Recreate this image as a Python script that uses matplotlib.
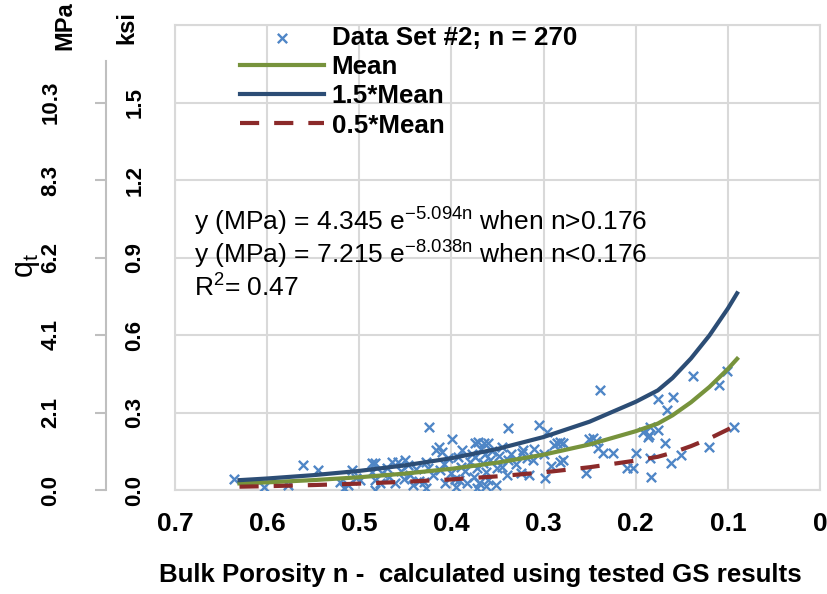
import matplotlib
matplotlib.use('Agg')
import matplotlib.pyplot as plt

# 字体
plt.rcParams['font.family'] = ['Liberation Sans', 'DejaVu Sans']
plt.rcParams['mathtext.fontset'] = 'custom'
plt.rcParams['mathtext.rm'] = 'Liberation Sans'
plt.rcParams['mathtext.it'] = 'Liberation Sans'

KSI = 6.895  # MPa per ksi

# scatter data (porosity n, qt in MPa)
n_data = [0.636, 0.603, 0.577, 0.561, 0.545, 0.521, 0.517, 0.512, 0.508, 0.504,
          0.499, 0.486, 0.486, 0.483, 0.483, 0.483, 0.477, 0.475, 0.470, 0.468,
          0.464, 0.461, 0.458, 0.455, 0.452, 0.450, 0.447, 0.445, 0.442, 0.438,
          0.435, 0.430, 0.428, 0.428, 0.425, 0.424, 0.420, 0.417, 0.414, 0.412,
          0.410, 0.408, 0.407, 0.404, 0.400, 0.399, 0.396, 0.395, 0.393, 0.392,
          0.390, 0.388, 0.385, 0.383, 0.380, 0.378, 0.376, 0.374, 0.374, 0.372,
          0.372, 0.371, 0.370, 0.368, 0.366, 0.365, 0.364, 0.363, 0.362, 0.360,
          0.360, 0.358, 0.356, 0.352, 0.350, 0.348, 0.345, 0.345, 0.340, 0.339,
          0.339, 0.335, 0.330, 0.325, 0.323, 0.322, 0.318, 0.316, 0.312, 0.310,
          0.305, 0.300, 0.298, 0.296, 0.292, 0.289, 0.285, 0.282, 0.282, 0.279,
          0.279, 0.254, 0.251, 0.246, 0.243, 0.241, 0.239, 0.235, 0.225, 0.209,
          0.203, 0.200, 0.192, 0.187, 0.186, 0.185, 0.184, 0.183, 0.176, 0.176,
          0.168, 0.166, 0.162, 0.159, 0.151, 0.138, 0.121, 0.110, 0.101, 0.093]
qt_data = [0.29, 0.08, 0.13, 0.67, 0.53, 0.21, 0.05, 0.13, 0.53, 0.32,
           0.27, 0.72, 0.48, 0.00, 0.27, 0.72, 0.19, 0.45, 0.60, 0.35,
           0.75, 0.19, 0.75, 0.50, 0.30, 0.80, 0.67, 0.40, 0.13, 0.55,
           0.25, 0.21, 0.75, 0.05, 0.60, 1.68, 0.40, 1.07, 1.15, 0.53,
           1.02, 0.70, 0.19, 0.86, 0.45, 1.36, 0.30, 0.08, 0.88, 0.27,
           0.62, 1.07, 0.50, 0.19, 0.75, 0.95, 0.35, 1.26, 0.88, 0.60,
           0.05, 1.28, 0.20, 1.10, 0.72, 1.26, 0.95, 0.48, 0.10, 1.26,
           0.27, 0.80, 1.05, 0.13, 0.60, 0.90, 1.15, 0.61, 0.40, 0.80,
           1.66, 0.95, 0.70, 0.45, 0.99, 1.07, 0.86, 0.40, 0.80, 1.10,
           1.74, 0.95, 0.32, 1.55, 0.65, 1.20, 1.26, 1.28, 0.75, 0.80,
           1.26, 0.45, 1.36, 1.39, 1.30, 1.12, 2.67, 0.99, 0.99, 0.59,
           0.59, 0.99, 1.55, 1.42, 1.47, 0.86, 1.68, 0.35, 2.43, 1.60,
           1.26, 2.14, 0.72, 2.49, 0.94, 3.05, 1.15, 2.81, 3.18, 1.68]

# fitted curves (MPa), read at these n values
n_fit = [0.63, 0.60, 0.55, 0.50, 0.45, 0.40, 0.35, 0.30, 0.25, 0.20, 0.176,
         0.16, 0.14, 0.12, 0.10, 0.09]
mean_fit = [0.176, 0.204, 0.264, 0.340, 0.439, 0.566, 0.731, 0.943, 1.216, 1.569,
            1.773, 1.994, 2.341, 2.750, 3.229, 3.500]
upper_fit = [0.263, 0.307, 0.396, 0.510, 0.659, 0.849, 1.096, 1.414, 1.824, 2.354,
             2.659, 2.991, 3.512, 4.125, 4.844, 5.250]
lower_fit = [0.088, 0.102, 0.132, 0.170, 0.220, 0.283, 0.365, 0.471, 0.608, 0.785,
             0.886, 0.997, 1.171, 1.375, 1.615, 1.750]

x_ticks = [0.7, 0.6, 0.5, 0.4, 0.3, 0.2, 0.1, 0]
x_tick_labels = ['0.7', '0.6', '0.5', '0.4', '0.3', '0.2', '0.1', '0']
ksi_ticks = [0.0, 0.3, 0.6, 0.9, 1.2, 1.5]
ksi_labels = ['0.0', '0.3', '0.6', '0.9', '1.2', '1.5']
mpa_labels = ['0.0', '2.1', '4.1', '6.2', '8.3', '10.3']

W, H = 828, 594
fig = plt.figure(figsize=(W / 100, H / 100), dpi=100)
ax = fig.add_axes([175 / W, 104 / H, 645 / W, 465 / H])

grid_c = '#d9d9d9'
ax.scatter(n_data, qt_data, marker='x', s=45, color='#4f86c6', linewidths=1.7,
           label='Data Set #2; n = 270', zorder=3)
ax.plot(n_fit, mean_fit, color='#77933c', lw=3, label='Mean', zorder=4)
ax.plot(n_fit, upper_fit, color='#2c4d75', lw=3, label='1.5*Mean', zorder=4)
ax.plot(n_fit, lower_fit, color='#8b2a2a', lw=3, ls=(0, (4.6, 3.6)),
        label='0.5*Mean', zorder=4)

ax.set_xlim(0.7, 0)
ax.set_ylim(0, 1.8 * KSI)
ax.set_xticks(x_ticks)
ax.set_xticklabels(x_tick_labels, fontweight='bold', fontsize=19)
ax.set_yticks([k * KSI for k in ksi_ticks] + [1.8 * KSI])
ax.set_yticklabels([])
ax.tick_params(axis='both', length=0, pad=16)
ax.grid(True, color=grid_c, lw=1.5, zorder=0)
for s in ax.spines.values():
    s.set_color(grid_c)
    s.set_linewidth(1.5)
ax.set_axisbelow(True)
fig.text(480 / W, 1 - 575 / H, 'Bulk Porosity n -  calculated using tested GS results',
         fontweight='bold', fontsize=18.6, ha='center', va='center')

leg = ax.legend(loc='upper left', bbox_to_anchor=(240 / W, 1 - 26 / H),
                bbox_transform=fig.transFigure, frameon=False,
                prop={'weight': 'bold', 'size': 18.7}, handlelength=3.25,
                handletextpad=0.28, labelspacing=0.2, borderpad=0,
                borderaxespad=0)

# left axis with both unit scales
ax2 = fig.add_axes([106 / W, 104 / H, 0.0001, 465 / H])
ax2.set_ylim(0, 1.8 * KSI)
ax2.set_xticks([])
for k in ['top', 'bottom', 'right']:
    ax2.spines[k].set_visible(False)
ax2.spines['left'].set_color('#bfbfbf')
ax2.spines['left'].set_linewidth(1.5)
ax2.spines['left'].set_bounds(0, 1.66 * KSI)
ax2.set_yticks([k * KSI for k in ksi_ticks])
ax2.set_yticklabels(mpa_labels, rotation=90, va='center',
                    fontweight='bold', fontsize=16)
ax2.tick_params(axis='y', direction='out', length=8, width=1.5, color='#bfbfbf', pad=24)

ax3 = ax2.twinx()
ax3.set_ylim(0, 1.8 * KSI)
for s in ax3.spines.values():
    s.set_visible(False)
ax3.set_yticks([k * KSI for k in ksi_ticks])
ax3.set_yticklabels(ksi_labels, rotation=90, va='center',
                    fontweight='bold', fontsize=16)
ax3.tick_params(axis='y', length=0, pad=13)

fig.text(65 / W, 1 - 26 / H, 'MPa', rotation=90, ha='center', va='center',
         fontweight='bold', fontsize=17)
fig.text(127 / W, 1 - 28 / H, 'ksi', rotation=90, ha='center', va='center',
         fontweight='bold', fontsize=17)
fig.text(27 / W, 1 - 265 / H, r'q$_\mathrm{t}$', rotation=90, ha='center',
         va='center', fontsize=22)

eq_kw = dict(fontsize=19, ha='left', va='center')
fig.text(194 / W, 1 - 222 / H, r'y (MPa) = 4.345 e$^{\mathrm{-5.094n}}$ when n>0.176', **eq_kw)
fig.text(194 / W, 1 - 255 / H, r'y (MPa) = 7.215 e$^{\mathrm{-8.038n}}$ when n<0.176', **eq_kw)
fig.text(194 / W, 1 - 288 / H, r'R$^{2}$= 0.47', **eq_kw)

fig.savefig('out.png', dpi=100)
